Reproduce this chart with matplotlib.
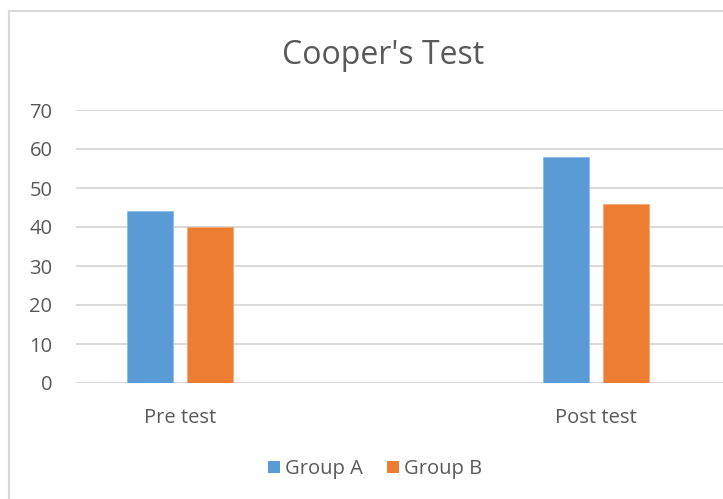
import matplotlib
matplotlib.use("Agg")
import matplotlib.pyplot as plt
from matplotlib.lines import Line2D
from matplotlib.patches import Patch

categories = ["Pre test", "Post test"]
series_names = ["Group A", "Group B"]
group_a = [44, 58]
group_b = [40, 46]
y_ticks = [0, 10, 20, 30, 40, 50, 60, 70]

col_a = "#5b9bd5"
col_b = "#ed7d31"
txt = "#595959"
grid = "#d9d9d9"

W, H = 723, 499
fig = plt.figure(figsize=(W / 100, H / 100), dpi=100)
plt.rcParams["font.family"] = ["Open Sans", "DejaVu Sans"]

# axes area in pixels: left 76, right 723, y0 at 383, y70 at 110
left, right = 76, 723
y0, y70 = 383, 110
ax = fig.add_axes([left / W, (H - y0) / H, (right - left) / W, (y0 - y70) / H])
ax.set_ylim(0, 70)
ax.set_xlim(-0.25, 1.305)

xs = list(range(len(categories)))
bw = 0.11
off = 0.0715
ax.bar([x - off for x in xs], group_a, width=bw, color=col_a, edgecolor="#8fbbe3", linewidth=0.6, zorder=3, label=series_names[0])
ax.bar([x + off for x in xs], group_b, width=bw, color=col_b, edgecolor="#f3a874", linewidth=0.6, zorder=3, label=series_names[1])

ax.set_yticks(y_ticks)
ax.set_yticklabels([str(t) for t in y_ticks])
ax.set_xticks(xs)
ax.set_xticklabels(categories)
ax.yaxis.grid(True, color=grid, linewidth=1.4, zorder=0)
ax.set_axisbelow(True)
for s in ax.spines.values():
    s.set_visible(False)
ax.tick_params(axis="both", length=0, labelsize=14.5, colors=txt)
ax.tick_params(axis="y", pad=17)
ax.tick_params(axis="x", pad=18)
for lab in ax.get_yticklabels():
    lab.set_horizontalalignment("right")

fig.text(383 / W, 1 - 56 / H, "Cooper's Test", ha="center", va="center", fontsize=23, color=txt)

handles = [Patch(facecolor=col_a, edgecolor="none"), Patch(facecolor=col_b, edgecolor="none")]
fig.legend(handles, series_names, loc="center", bbox_to_anchor=(375 / W, 1 - 469 / H), ncol=2,
           frameon=False, fontsize=14.5, labelcolor=txt, handlelength=0.6, handleheight=0.6,
           handletextpad=0.25, columnspacing=1.2)

# chart frame
fig.add_artist(Line2D([9 / W, 9 / W], [0, 1 - 11 / H], transform=fig.transFigure, color="#d9d9d9", linewidth=1.5))
fig.add_artist(Line2D([9 / W, 1], [1 - 11 / H, 1 - 11 / H], transform=fig.transFigure, color="#d9d9d9", linewidth=1.5))

fig.savefig("out.png", dpi=100)
